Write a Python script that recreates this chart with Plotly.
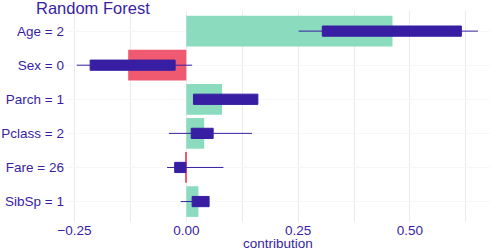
import plotly.graph_objects as go

variables = ["Age = 2", "Sex = 0", "Parch = 1", "Pclass = 2", "Fare = 26", "SibSp = 1"]
contribution = [0.461, -0.130, 0.080, 0.040, -0.002, 0.027]
box_min = [0.251, -0.245, 0.016, -0.039, -0.043, -0.0125]
box_q1 = [0.304, -0.215, 0.016, 0.011, -0.026, 0.013]
box_median = [0.46, -0.12, 0.09, 0.035, -0.013, 0.03]
box_q3 = [0.615, -0.025, 0.160, 0.060, -0.001, 0.051]
box_max = [0.652, 0.013, 0.160, 0.147, 0.083, 0.051]
x_ticks = [-0.25, 0.0, 0.25, 0.5]
x_tick_labels = ["\u22120.25", "0.00", "0.25", "0.50"]

GREEN = "#8bdcbe"
RED = "#f05a71"
NAVY = "#371ea3"
FONT = "Liberation Sans"

fig = go.Figure()
fig.add_trace(go.Bar(
    x=contribution, y=variables, orientation="h",
    marker=dict(color=[GREEN if v > 0 else RED for v in contribution], line=dict(width=0)),
    width=0.9, showlegend=False, hoverinfo="skip",
))
fig.add_trace(go.Box(
    y=variables, q1=box_q1, median=box_median, q3=box_q3,
    lowerfence=box_min, upperfence=box_max, orientation="h",
    fillcolor=NAVY, line=dict(color=NAVY, width=1), whiskerwidth=0,
    width=0.3, showlegend=False, hoverinfo="skip",
))

fig.update_layout(
    width=498, height=250,
    margin=dict(l=66, r=8, t=11, b=28),
    paper_bgcolor="white", plot_bgcolor="white",
    font=dict(family=FONT, color=NAVY, size=13.5),
    bargap=0.1,
    title=dict(text="Random Forest", x=36/498, xanchor="left", xref="container",
               y=1 - 8.5/250, yanchor="middle", yref="container",
               font=dict(family=FONT, size=16.5, color=NAVY)),
    annotations=[
        dict(text="contribution", xref="paper", yref="paper", x=0.5, y=-(243.5 - 222) / 211,
             xanchor="center", yanchor="middle", showarrow=False,
             font=dict(family=FONT, size=13.5, color=NAVY)),
    ],
)
fig.update_xaxes(
    range=[-0.269, 0.679], tickvals=x_ticks, ticktext=x_tick_labels,
    showgrid=True, gridcolor="#ebebeb", gridwidth=1, zeroline=False,
    minor=dict(tick0=0.125, dtick=0.25, showgrid=True, gridcolor="#ebebeb", gridwidth=1),
    ticks="", tickfont=dict(family=FONT, size=13.5), ticklabelstandoff=-2,
    automargin=False,
)
fig.update_yaxes(
    categoryorder="array", categoryarray=variables,
    range=[5.6, -0.59], showgrid=True, gridcolor="#f7f7f7", zeroline=False,
    ticks="", tickfont=dict(family=FONT, size=13.5), ticklabelstandoff=1, automargin=False,
)

fig.write_html("out.html", config={"displayModeBar": False},
               post_script="document.body.style.margin='0';")
